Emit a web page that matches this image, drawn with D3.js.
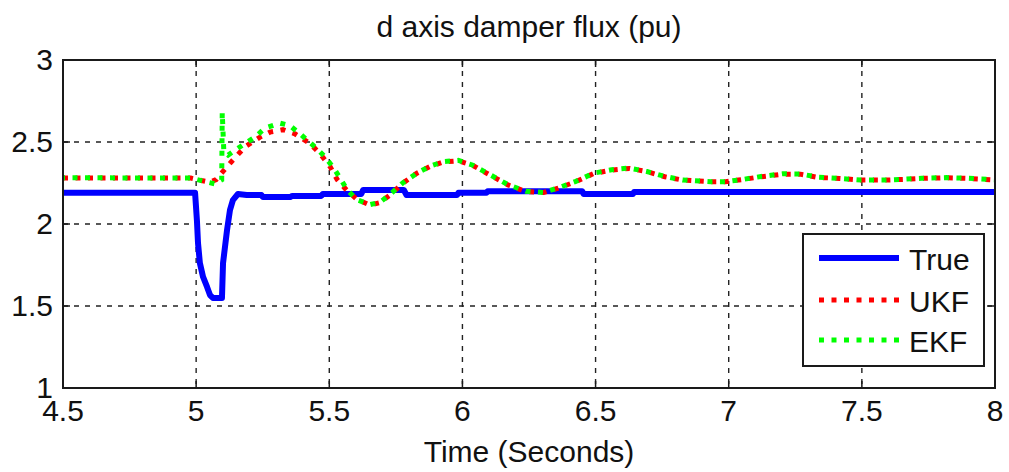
<!DOCTYPE html>
<html><head><meta charset="utf-8">
<script src="https://cdn.jsdelivr.net/npm/d3@7"></script>
<style>
body{margin:0;background:#fff}
svg{display:block}
text{font-family:"Liberation Sans",Arial,Helvetica,sans-serif;fill:#111}
</style>
</head><body>
<svg id="chart" width="1009" height="472"></svg>
<script>
// ---- data ----
const titleText = "d axis damper flux (pu)";
const xLabelText = "Time (Seconds)";
const xTicks = [4.5, 5, 5.5, 6, 6.5, 7, 7.5, 8];
const yTicks = [1, 1.5, 2, 2.5, 3];
const seriesNames = ["True", "UKF", "EKF"];

const trueT = [4.5, 4.996, 5.003, 5.007, 5.014, 5.026, 5.041, 5.052, 5.063, 5.097, 5.101, 5.116, 5.127, 5.138, 5.157, 5.19, 5.245, 5.25, 5.355, 5.36, 5.47, 5.476, 5.62, 5.627, 5.78, 5.79, 5.98, 5.985, 6.09, 6.095, 6.45, 6.455, 6.64, 6.645, 8.0];
const trueV = [2.19, 2.19, 2.02, 1.884, 1.762, 1.677, 1.616, 1.567, 1.549, 1.549, 1.762, 1.963, 2.085, 2.146, 2.183, 2.177, 2.177, 2.165, 2.165, 2.171, 2.171, 2.183, 2.183, 2.207, 2.207, 2.177, 2.177, 2.19, 2.19, 2.2, 2.2, 2.183, 2.183, 2.195, 2.195];

const ukfT = [4.5, 4.98, 5.02, 5.05, 5.075, 5.09, 5.127, 5.183, 5.24, 5.277, 5.326, 5.371, 5.428, 5.465, 5.503, 5.53, 5.566, 5.604, 5.653, 5.69, 5.728, 5.777, 5.829, 5.878, 5.927, 5.984, 6.037, 6.104, 6.171, 6.238, 6.305, 6.359, 6.426, 6.493, 6.56, 6.627, 6.693, 6.76, 6.827, 6.934, 6.988, 7.055, 7.122, 7.202, 7.269, 7.336, 7.416, 7.497, 7.59, 7.657, 7.724, 7.818, 7.898, 8.0];
const ukfV = [2.28, 2.28, 2.265, 2.255, 2.27, 2.30, 2.37, 2.47, 2.53, 2.56, 2.575, 2.55, 2.49, 2.43, 2.35, 2.27, 2.205, 2.15, 2.115, 2.13, 2.177, 2.25, 2.31, 2.35, 2.378, 2.385, 2.359, 2.298, 2.238, 2.198, 2.192, 2.218, 2.258, 2.308, 2.329, 2.339, 2.319, 2.288, 2.268, 2.258, 2.258, 2.272, 2.288, 2.304, 2.304, 2.284, 2.278, 2.268, 2.268, 2.272, 2.278, 2.282, 2.278, 2.268];

const ekfT = [4.5, 4.98, 5.03, 5.07, 5.085, 5.096, 5.098, 5.104, 5.12, 5.146, 5.183, 5.221, 5.259, 5.315, 5.352, 5.39, 5.446, 5.484, 5.521, 5.55, 5.566, 5.604, 5.653, 5.69, 5.728, 5.777, 5.829, 5.878, 5.927, 5.984, 6.037, 6.104, 6.171, 6.238, 6.305, 6.359, 6.426, 6.493, 6.56, 6.627, 6.693, 6.76, 6.827, 6.934, 6.988, 7.055, 7.122, 7.202, 7.269, 7.336, 7.416, 7.497, 7.59, 7.657, 7.724, 7.818, 7.898, 8.0];
const ekfV = [2.282, 2.28, 2.26, 2.245, 2.26, 2.27, 2.68, 2.44, 2.42, 2.45, 2.49, 2.53, 2.585, 2.615, 2.60, 2.55, 2.47, 2.41, 2.33, 2.255, 2.21, 2.148, 2.118, 2.132, 2.18, 2.252, 2.31, 2.352, 2.38, 2.388, 2.36, 2.3, 2.24, 2.2, 2.192, 2.22, 2.26, 2.31, 2.331, 2.341, 2.32, 2.29, 2.268, 2.258, 2.258, 2.272, 2.29, 2.306, 2.305, 2.285, 2.278, 2.268, 2.268, 2.273, 2.279, 2.283, 2.279, 2.27];

// ---- layout ----
const W = 1009, H = 472;
const m = {left: 63, top: 60, right: 14, bottom: 84};
const pw = W - m.left - m.right, ph = H - m.top - m.bottom;
const FONT = 30;

const svg = d3.select("#chart");
const x = d3.scaleLinear().domain([4.5, 8]).range([m.left, m.left + pw]);
const y = d3.scaleLinear().domain([1, 3]).range([m.top + ph, m.top]);

const clipId = "plotclip";
svg.append("defs").append("clipPath").attr("id", clipId)
  .append("rect").attr("x", m.left).attr("y", m.top).attr("width", pw).attr("height", ph);

// grid
const grid = svg.append("g").attr("stroke", "#222").attr("stroke-width", 1.4).attr("stroke-dasharray", "5,6");
grid.selectAll("line.gx").data(xTicks.filter(t => t > 4.5 && t < 8)).join("line")
  .attr("x1", d => x(d)).attr("x2", d => x(d)).attr("y1", m.top).attr("y2", m.top + ph);
grid.selectAll("line.gy").data(yTicks.filter(t => t > 1 && t < 3)).join("line")
  .attr("x1", m.left).attr("x2", m.left + pw).attr("y1", d => y(d)).attr("y2", d => y(d));

// series
const line = d3.line().x(d => x(d[0])).y(d => y(d[1]));
const zip = (a, b) => a.map((t, i) => [t, b[i]]);
const plot = svg.append("g").attr("clip-path", `url(#${clipId})`);
plot.append("path").datum(zip(trueT, trueV)).attr("d", line)
  .attr("fill", "none").attr("stroke", "#0000ff").attr("stroke-width", 6).attr("stroke-linejoin", "round");
plot.append("path").datum(zip(ukfT, ukfV)).attr("d", line)
  .attr("fill", "none").attr("stroke", "#ff0000").attr("stroke-width", 5).attr("stroke-dasharray", "5,7.5");
plot.append("path").datum(zip(ekfT, ekfV)).attr("d", line)
  .attr("fill", "none").attr("stroke", "#00ff00").attr("stroke-width", 5).attr("stroke-dasharray", "5,7.5").attr("stroke-dashoffset", 3);

// axes box
svg.append("rect").attr("x", m.left).attr("y", m.top).attr("width", pw).attr("height", ph)
  .attr("fill", "none").attr("stroke", "#1a1a1a").attr("stroke-width", 2);

// inward ticks
const tl = 7;
const ticks = svg.append("g").attr("stroke", "#1a1a1a").attr("stroke-width", 1.5);
xTicks.forEach(t => {
  ticks.append("line").attr("x1", x(t)).attr("x2", x(t)).attr("y1", m.top + ph).attr("y2", m.top + ph - tl);
  ticks.append("line").attr("x1", x(t)).attr("x2", x(t)).attr("y1", m.top).attr("y2", m.top + tl);
});
yTicks.forEach(v => {
  ticks.append("line").attr("x1", m.left).attr("x2", m.left + tl).attr("y1", y(v)).attr("y2", y(v));
  ticks.append("line").attr("x1", m.left + pw).attr("x2", m.left + pw - tl).attr("y1", y(v)).attr("y2", y(v));
});

// tick labels
svg.append("g").selectAll("text").data(xTicks).join("text")
  .attr("x", d => x(d)).attr("y", m.top + ph + 33).attr("text-anchor", "middle")
  .attr("font-size", FONT).text(d => d3.format("")(d));
svg.append("g").selectAll("text").data(yTicks).join("text")
  .attr("x", m.left - 10).attr("y", d => y(d) + 10).attr("text-anchor", "end")
  .attr("font-size", FONT).text(d => d3.format("")(d));

// title & x label
svg.append("text").attr("x", m.left + pw / 2).attr("y", 37).attr("text-anchor", "middle")
  .attr("font-size", FONT).text(titleText);
svg.append("text").attr("x", m.left + pw / 2).attr("y", 462).attr("text-anchor", "middle")
  .attr("font-size", FONT).text(xLabelText);

// legend
const lg = svg.append("g");
const lx = 803, ly = 234, lw = 181, lh = 132;
lg.append("rect").attr("x", lx).attr("y", ly).attr("width", lw).attr("height", lh)
  .attr("fill", "#fff").attr("stroke", "#1a1a1a").attr("stroke-width", 2);
const legStyles = [
  {color: "#0000ff", w: 6, dash: null},
  {color: "#ff0000", w: 5, dash: "5,7.5"},
  {color: "#00ff00", w: 5, dash: "5,7.5"}
];
const rowY = [258, 300, 340];
seriesNames.forEach((n, i) => {
  const s = legStyles[i];
  const l = lg.append("line").attr("x1", 819).attr("x2", 899).attr("y1", rowY[i]).attr("y2", rowY[i])
    .attr("stroke", s.color).attr("stroke-width", s.w);
  if (s.dash) l.attr("stroke-dasharray", s.dash);
  lg.append("text").attr("x", 909).attr("y", rowY[i] + 12).attr("font-size", FONT).text(n);
});
</script>
</body></html>
